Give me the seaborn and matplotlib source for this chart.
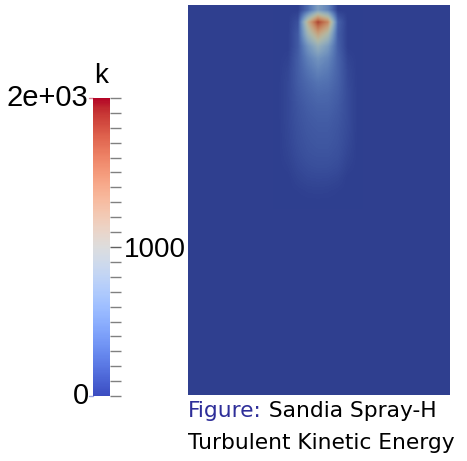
import numpy as np
import matplotlib
matplotlib.use("Agg")
import matplotlib.pyplot as plt
import seaborn as sns
from matplotlib.colors import ListedColormap, Normalize
from matplotlib.cm import ScalarMappable

sns.set_theme(style="white")
plt.rcParams['font.family'] = ['Liberation Sans', 'DejaVu Sans']

# ---- data -------------------------------------------------------------
k_min, k_max = 0, 2000
cbar_major = [1000]
cbar_labels_left = {2000: "2e+03", 0: "0"}
cbar_minor_step = 100
variable = "k"
caption_prefix = "Figure:"
caption_line1 = " Sandia Spray-H"
caption_line2 = "Turbulent Kinetic Energy"

# domain (units of 10 px): x from -13.0 to 13.3, y from 0 (nozzle) to 39
domain_x = [-13.0, 13.3]
domain_y = [0.0, 39.0]
# plume sub-grid (cell centres at x = -4..4, rows of 1.2 units)
plume_x = [-4.5, 4.5]
plume_y = [0.0, 20.4]
k_field = [
    [0, 0,  0,   250,  600,  400,  0,   0,  0],
    [0, 0,  100, 1150, 1800, 1450, 200, 0,  0],
    [0, 0,  150, 850,  1250, 950,  170, 0,  0],
    [0, 0,  150, 520,  780,  580,  180, 0,  0],
    [0, 20, 170, 380,  520,  420,  200, 30, 0],
    [0, 40, 170, 300,  400,  340,  200, 50, 0],
    [0, 50, 160, 240,  300,  280,  190, 60, 0],
    [0, 50, 140, 200,  240,  230,  170, 70, 0],
    [0, 50, 120, 170,  200,  200,  150, 70, 0],
    [0, 50, 110, 150,  170,  170,  135, 70, 0],
    [0, 45, 100, 135,  150,  150,  120, 65, 0],
    [0, 40, 90,  120,  135,  135,  110, 55, 0],
    [0, 30, 75,  105,  115,  115,  95,  40, 0],
    [0, 15, 55,  80,   90,   88,   70,  20, 0],
    [0, 0,  30,  50,   55,   52,   35,  0,  0],
    [0, 0,  8,   18,   22,   18,   8,   0,  0],
    [0, 0,  0,   0,    0,    0,    0,   0,  0],
]

# ---- figure -------------------------------------------------------------
W, H = 467, 461
fig = plt.figure(figsize=(W / 100, H / 100), dpi=100)

base = sns.color_palette("coolwarm", as_cmap=True)
norm = Normalize(vmin=k_min, vmax=k_max)
shade = np.array([0.80, 0.83, 0.745])
cols = base(np.linspace(0, 1, 256))[:, :3] * shade
shaded = ListedColormap(np.clip(cols, 0, 1))

# field axes
ax = fig.add_axes([188 / W, (H - 395) / H, 262 / W, 390 / H])
ax.set_facecolor(shaded(0.0))
ax.imshow(np.array(k_field), cmap=shaded, norm=norm, interpolation="bilinear",
          extent=[plume_x[0], plume_x[1], plume_y[1], plume_y[0]], aspect="auto")
ax.set_xlim(domain_x)
ax.set_ylim(domain_y[1], domain_y[0])
ax.set_xticks([])
ax.set_yticks([])
for s in ax.spines.values():
    s.set_visible(False)

# colorbar
cax = fig.add_axes([93 / W, (H - 396) / H, 17 / W, 298 / H])
sm = ScalarMappable(norm=norm, cmap=base)
cb = fig.colorbar(sm, cax=cax)
cb.outline.set_visible(False)
cax.yaxis.set_ticks_position("right")
cax.set_yticks(cbar_major)
cax.set_yticklabels([str(v) for v in cbar_major])
cax.set_yticks(np.arange(k_min, k_max + 1, cbar_minor_step), minor=True)
cax.tick_params(axis="y", which="major", length=8, width=1, color="#606060",
                labelsize=20, labelcolor="black", pad=2, right=True, left=False)
cax.tick_params(axis="y", which="minor", length=8, width=1, color="#808080",
                right=True, left=False)
for v, lab in cbar_labels_left.items():
    cax.text(-0.25, v, lab, transform=cax.get_yaxis_transform(),
             ha="right", va="center", fontsize=21, color="black")
    cax.plot([-0.25, 0], [v, v], transform=cax.get_yaxis_transform(),
             color=base(norm(v)), lw=1, clip_on=False, alpha=0.5)
cax.text(0.5, 1.03, variable, transform=cax.transAxes, ha="center",
         va="bottom", fontsize=20, color="black")

# caption
cap_fs = 15.7
t1 = fig.text(188 / W, (H - 417) / H, caption_prefix, color="#2e2e99",
              fontsize=cap_fs, ha="left", va="baseline", family="DejaVu Sans")
fig.canvas.draw()
bb = t1.get_window_extent()
fig.text(bb.x1 / W, (H - 417) / H, caption_line1, color="black",
         fontsize=cap_fs, ha="left", va="baseline", family="DejaVu Sans")
fig.text(188 / W, (H - 449) / H, caption_line2, color="black",
         fontsize=cap_fs, ha="left", va="baseline", family="DejaVu Sans")

fig.savefig("out.png", dpi=100)
